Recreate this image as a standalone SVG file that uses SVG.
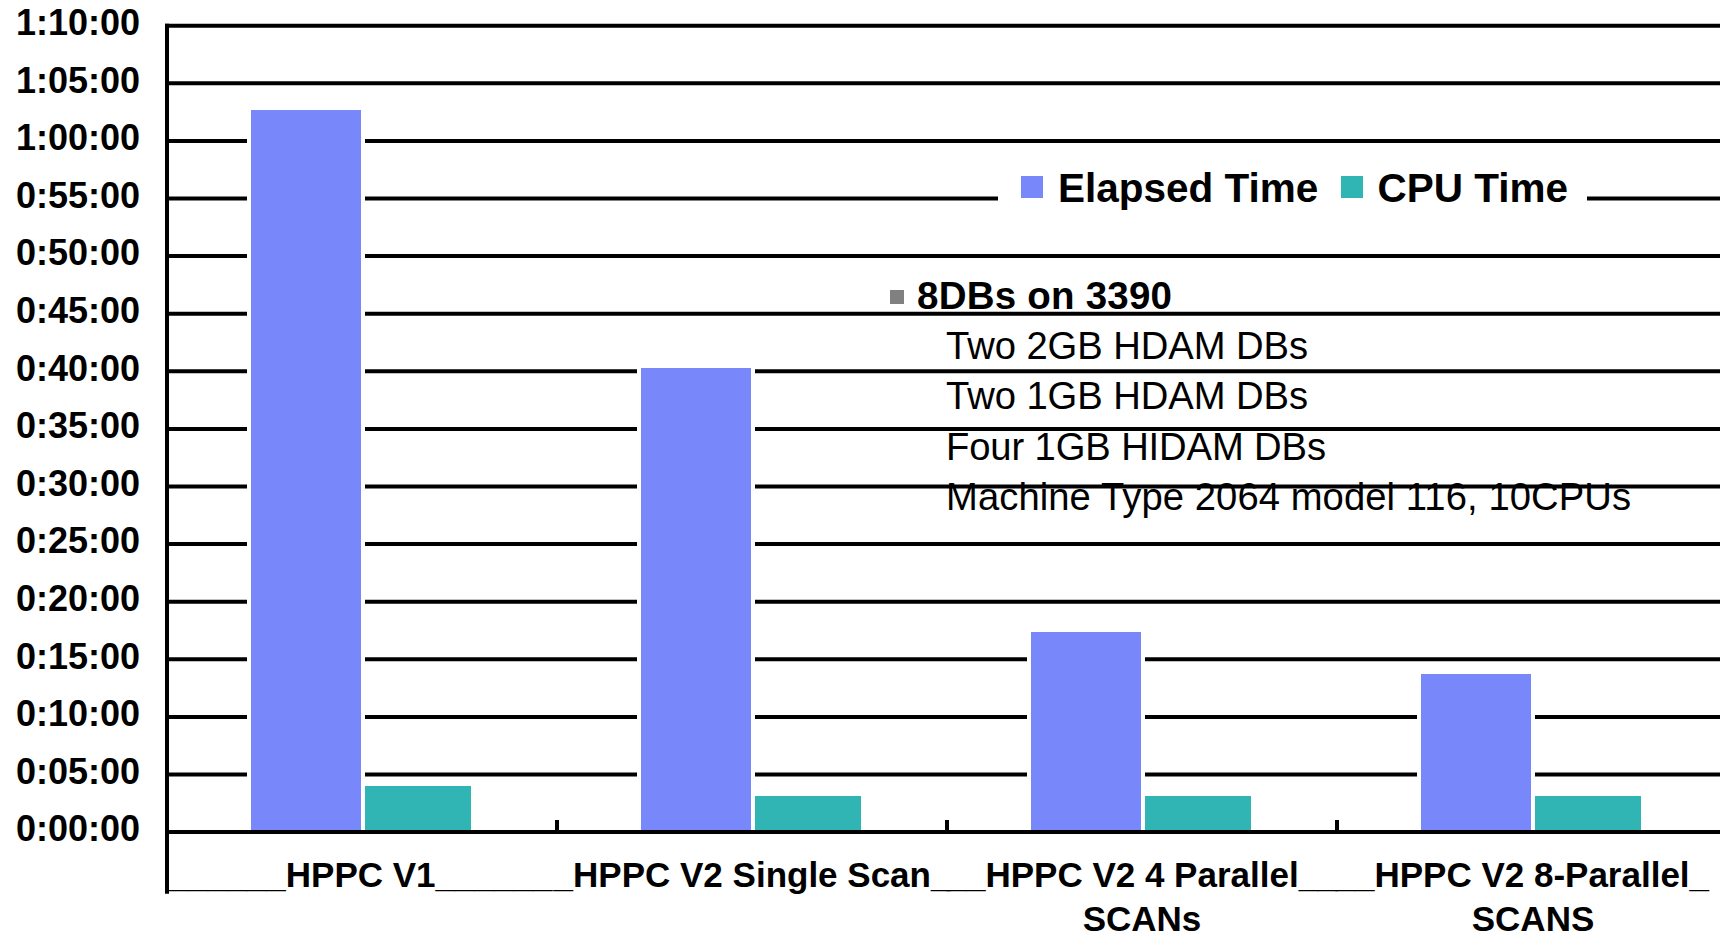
<svg xmlns="http://www.w3.org/2000/svg" width="1720" height="936" viewBox="0 0 1720 936">
<style>
.g{stroke:#000;stroke-width:4;fill:none}
.yl{font-family:"Liberation Sans",Arial,sans-serif;font-weight:bold;font-size:36px;fill:#000;text-anchor:end}
.xl{font-family:"Liberation Sans",Arial,sans-serif;font-weight:bold;font-size:35px;fill:#000}
.xc{text-anchor:middle}
.el{fill:#7888FA;stroke:#fff;stroke-width:8;paint-order:stroke}
.cp{fill:#30B4B4;stroke:#fff;stroke-width:8;paint-order:stroke}
.lg{font-family:"Liberation Sans",Arial,sans-serif;font-weight:bold;font-size:40.5px;fill:#000}
.nb{font-family:"Liberation Sans",Arial,sans-serif;font-weight:bold;font-size:38.5px;fill:#000}
.nt{font-family:"Liberation Sans",Arial,sans-serif;font-size:38.2px;fill:#000}
</style>
<rect width="1720" height="936" fill="#fff"/>
<g id="gridlines">
<line class="g" x1="165" y1="25.7" x2="1720" y2="25.7"/>
<line class="g" x1="167" y1="83.3" x2="1720" y2="83.3"/>
<line class="g" x1="167" y1="140.9" x2="1720" y2="140.9"/>
<line class="g" x1="167" y1="198.5" x2="1720" y2="198.5"/>
<line class="g" x1="167" y1="256.1" x2="1720" y2="256.1"/>
<line class="g" x1="167" y1="313.7" x2="1720" y2="313.7"/>
<line class="g" x1="167" y1="371.3" x2="1720" y2="371.3"/>
<line class="g" x1="167" y1="428.9" x2="1720" y2="428.9"/>
<line class="g" x1="167" y1="486.5" x2="1720" y2="486.5"/>
<line class="g" x1="167" y1="544.1" x2="1720" y2="544.1"/>
<line class="g" x1="167" y1="601.7" x2="1720" y2="601.7"/>
<line class="g" x1="167" y1="659.3" x2="1720" y2="659.3"/>
<line class="g" x1="167" y1="716.9" x2="1720" y2="716.9"/>
<line class="g" x1="167" y1="774.5" x2="1720" y2="774.5"/>
</g>
<g id="bars">
<rect class="el" x="251" y="110" width="110" height="722"/>
<rect class="cp" x="365" y="786" width="106" height="46"/>
<rect class="el" x="641" y="368" width="110" height="464"/>
<rect class="cp" x="755" y="796" width="106" height="36"/>
<rect class="el" x="1031" y="632" width="110" height="200"/>
<rect class="cp" x="1145" y="796" width="106" height="36"/>
<rect class="el" x="1421" y="674" width="110" height="158"/>
<rect class="cp" x="1535" y="796" width="106" height="36"/>
</g>
<g id="axes">
<line class="g" x1="165" y1="832.1" x2="1720" y2="832.1"/>
<line class="g" x1="167" y1="23.7" x2="167" y2="893.7"/>
<line class="g" x1="557" y1="820" x2="557" y2="832"/>
<line class="g" x1="947" y1="820" x2="947" y2="832"/>
<line class="g" x1="1337" y1="820" x2="1337" y2="832"/>
</g>
<g id="y-labels">
<text class="yl" x="140" y="35">1:10:00</text>
<text class="yl" x="140" y="92.6">1:05:00</text>
<text class="yl" x="140" y="150.2">1:00:00</text>
<text class="yl" x="140" y="207.8">0:55:00</text>
<text class="yl" x="140" y="265.4">0:50:00</text>
<text class="yl" x="140" y="323">0:45:00</text>
<text class="yl" x="140" y="380.6">0:40:00</text>
<text class="yl" x="140" y="438.2">0:35:00</text>
<text class="yl" x="140" y="495.8">0:30:00</text>
<text class="yl" x="140" y="553.4">0:25:00</text>
<text class="yl" x="140" y="611">0:20:00</text>
<text class="yl" x="140" y="668.6">0:15:00</text>
<text class="yl" x="140" y="726.2">0:10:00</text>
<text class="yl" x="140" y="783.8">0:05:00</text>
<text class="yl" x="140" y="841.4">0:00:00</text>
</g>
<g id="x-labels">
<text class="xl" x="169" y="887">______HPPC V1______</text>
<text class="xl" x="553.6" y="887">_HPPC V2 Single Scan_</text>
<text class="xl" x="946.5" y="887">__HPPC V2 4 Parallel__</text>
<text class="xl xc" x="1142" y="931">SCANs</text>
<text class="xl" x="1335.5" y="887">__HPPC V2 8-Parallel_</text>
<text class="xl xc" x="1533" y="931">SCANS</text>
</g>
<g id="legend">
<rect x="998" y="160" width="589" height="60" fill="#fff"/>
<rect x="1021" y="176" width="22" height="22" fill="#7888FA"/>
<text class="lg" x="1058" y="201.5">Elapsed Time</text>
<rect x="1341" y="176" width="22" height="22" fill="#30B4B4"/>
<text class="lg" x="1377.5" y="201.5">CPU Time</text>
</g>
<g id="note">
<rect x="890" y="290" width="14" height="14" fill="#808080"/>
<text class="nb" x="917" y="308.5" textLength="255">8DBs on 3390</text>
<text class="nt" x="946" y="358.5" textLength="362">Two 2GB HDAM DBs</text>
<text class="nt" x="946" y="409" textLength="362">Two 1GB HDAM DBs</text>
<text class="nt" x="946" y="459.5" textLength="380">Four 1GB HIDAM DBs</text>
<text class="nt" x="946" y="510" textLength="685">Machine Type 2064 model 116, 10CPUs</text>
</g>
</svg>
